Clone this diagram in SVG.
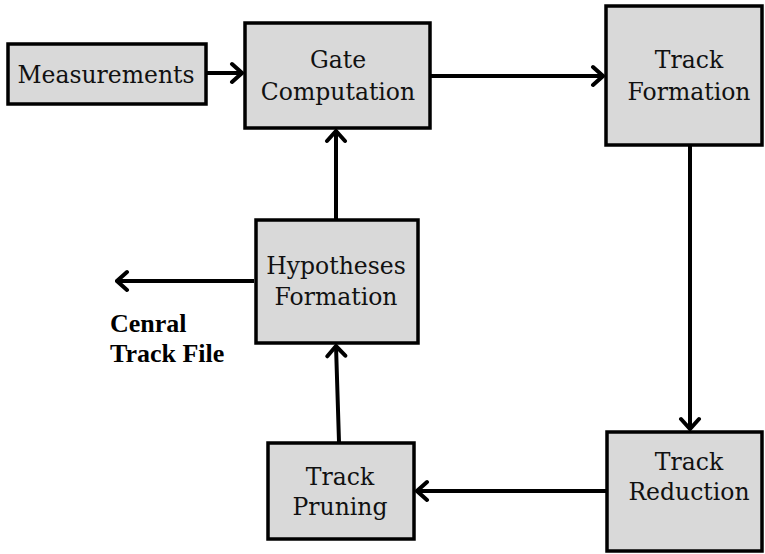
<svg xmlns="http://www.w3.org/2000/svg" width="765" height="554" viewBox="0 0 765 554">
<style>
.box{fill:#d9d9d9;stroke:#000;stroke-width:3.5}
.lbl{font-family:'DejaVu Serif',serif;font-size:23.5px;fill:#111;text-anchor:middle}
.bold{font-family:'Liberation Serif','DejaVu Serif',serif;font-size:26px;font-weight:bold;fill:#000}
.con{stroke:#000;stroke-width:4;fill:none;marker-end:url(#ah)}
</style>
<defs>
<marker id="ah" markerUnits="userSpaceOnUse" viewBox="-14 -12 16 24" refX="0" refY="0" markerWidth="16" markerHeight="24" orient="auto">
<path d="M-10,-9 L0,0 L-10,9" fill="none" stroke="#000" stroke-width="4" stroke-linecap="round" stroke-linejoin="miter"/>
</marker>
</defs>
<g id="connectors">
<line class="con" x1="207" y1="73" x2="242" y2="73"/>
<line class="con" x1="431" y1="76" x2="603" y2="76"/>
<line class="con" x1="690" y1="146" x2="690" y2="429"/>
<line class="con" x1="606" y1="491" x2="417" y2="491"/>
<line class="con" x1="339" y1="442" x2="336" y2="346"/>
<line class="con" x1="336" y1="219" x2="336" y2="131"/>
<line class="con" x1="254" y1="281" x2="117" y2="281"/>
</g>
<g id="measurements">
<rect class="box" x="8" y="44" width="198" height="60"/>
<text class="lbl" x="106" y="83">Measurements</text>
</g>
<g id="gate">
<rect class="box" x="245" y="23" width="185" height="105"/>
<text class="lbl" x="338" y="68">Gate</text>
<text class="lbl" x="338" y="100">Computation</text>
</g>
<g id="track-formation">
<rect class="box" x="606" y="6" width="156" height="139"/>
<text class="lbl" x="689" y="68">Track</text>
<text class="lbl" x="689" y="100">Formation</text>
</g>
<g id="hypotheses">
<rect class="box" x="256" y="220" width="162" height="123"/>
<text class="lbl" x="336" y="274">Hypotheses</text>
<text class="lbl" x="336" y="305">Formation</text>
</g>
<g id="track-pruning">
<rect class="box" x="268" y="443" width="146" height="96"/>
<text class="lbl" x="340" y="485">Track</text>
<text class="lbl" x="340" y="515">Pruning</text>
</g>
<g id="track-reduction">
<rect class="box" x="607" y="432" width="155" height="119"/>
<text class="lbl" x="689" y="470">Track</text>
<text class="lbl" x="689" y="500">Reduction</text>
</g>
<g id="central-track-file">
<text class="bold" x="110" y="332">Cenral</text>
<text class="bold" x="110" y="362">Track File</text>
</g>
</svg>
